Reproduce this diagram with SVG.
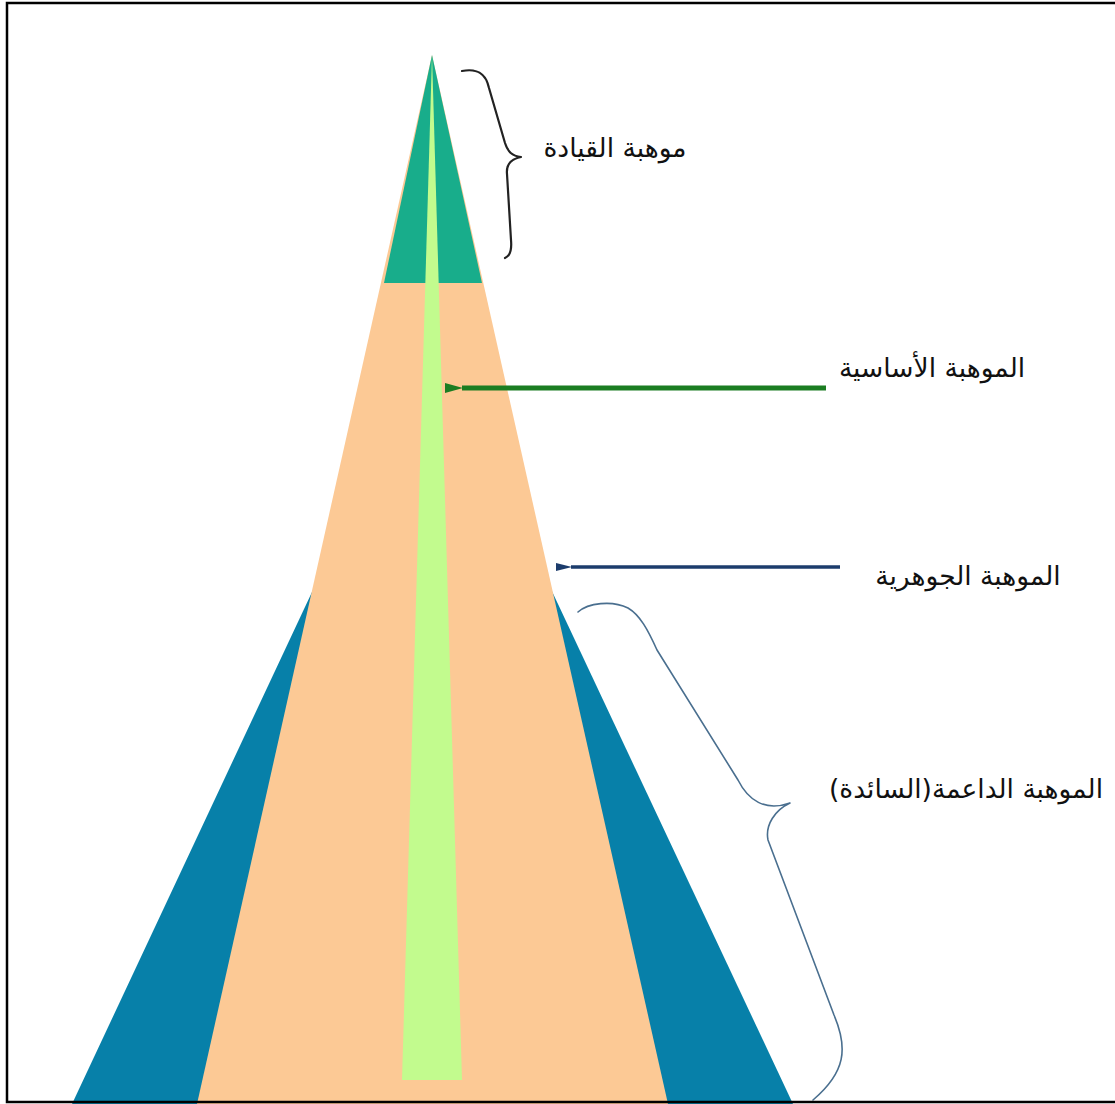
<svg xmlns="http://www.w3.org/2000/svg" width="1115" height="1104" viewBox="0 0 1115 1104">
<style>
.lbl{font-family:"DejaVu Sans","Noto Sans",sans-serif;font-size:26.5px;fill:#111;text-anchor:middle}
.brace{fill:none;stroke-linecap:round;stroke-linejoin:round}
</style>
<defs>
<marker id="ahG" markerWidth="18" markerHeight="12" refX="1" refY="6" orient="auto" markerUnits="userSpaceOnUse" viewBox="0 0 18 12">
<path d="M18,1 L0,6 L18,11 z" fill="#1b7d22"/>
</marker>
<marker id="ahN" markerWidth="16" markerHeight="10" refX="1" refY="5" orient="auto" markerUnits="userSpaceOnUse" viewBox="0 0 16 10">
<path d="M16,1 L0,5 L16,9 z" fill="#1c3c6c"/>
</marker>
</defs>
<rect x="0" y="0" width="1115" height="1104" fill="#fff"/>
<g id="pyramid">
<polygon id="supporting" points="432,336 72,1104 793,1104" fill="#0780a9"/>
<polygon id="core" points="432,55 197,1104 668,1104" fill="#fcc995"/>
<polygon id="leadership" points="432,55 384,283 482,283" fill="#18ad8b"/>
<polygon id="basic-bar" points="432,55 402,1080 462,1080" fill="#c2fb8e"/>
</g>
<g id="braces">
<path id="brace-leadership" class="brace" stroke="#222" stroke-width="2.2" d="M462,71 C478,68 486,74 489,88 L505,143 C508,152 512,156 521,157 C511,159 506,164 507,174 L511,240 C512,251 510,256 505,258"/>
<path id="brace-supporting" class="brace" stroke="#4a6f8f" stroke-width="1.6" d="M578,612 C588,603 612,600 628,608 C640,615 648,630 657,650 L738,780 C748,800 765,812 790,803 C775,810 765,825 768,840 L834,1015 C848,1048 846,1072 813,1100"/>
</g>
<g id="connectors">
<line x1="826" y1="388" x2="462" y2="388" stroke="#1b7d22" stroke-width="5" marker-end="url(#ahG)"/>
<line x1="840" y1="567" x2="571" y2="567" stroke="#1c3c6c" stroke-width="3.5" marker-end="url(#ahN)"/>
</g>
<g id="labels">
<text id="t-leadership" class="lbl" x="615" y="157">موهبة القيادة</text>
<text id="t-basic" class="lbl" x="932" y="377">الموهبة الأساسية</text>
<text id="t-core" class="lbl" x="968" y="585">الموهبة الجوهرية</text>
<text id="t-supporting" class="lbl" x="966" y="798">الموهبة الداعمة(السائدة)</text>
</g>
<path id="frame" d="M1115,3 L7,3 L7,1102 L1115,1102" fill="none" stroke="#000" stroke-width="2.5"/>
</svg>
